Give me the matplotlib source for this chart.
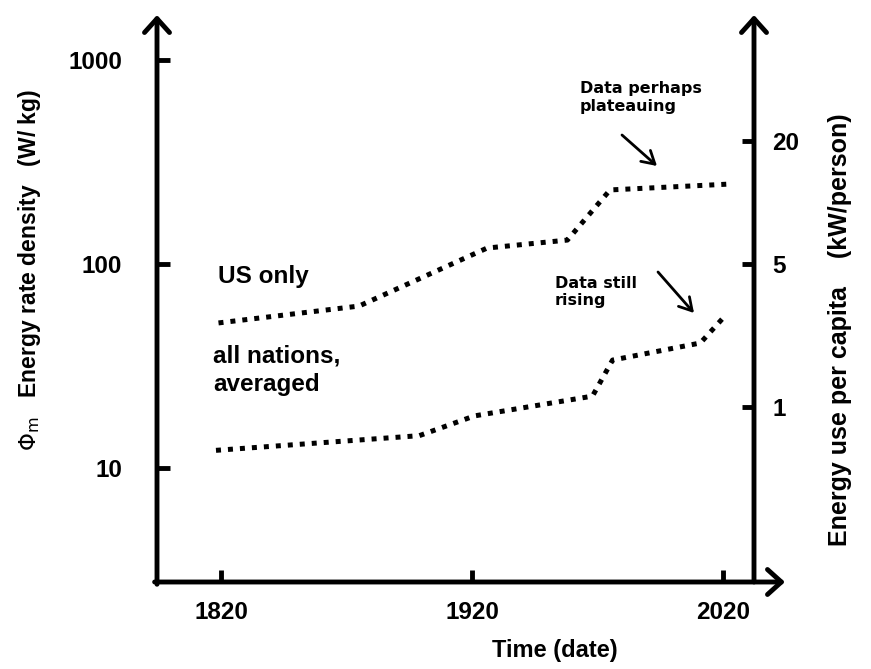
import matplotlib
matplotlib.use("Agg")
import matplotlib.pyplot as plt
from matplotlib.patches import FancyArrowPatch

# ---- data ----
us_years = [1819, 1875, 1926, 1958, 1975, 2023]
us_values = [51.4, 62.2, 119.7, 131, 230.7, 246.6]

all_years = [1818, 1899, 1921, 1968, 1976, 2011, 2020]
all_values = [12.2, 14.4, 18.0, 22.5, 33.8, 41.0, 54.3]

x_ticks = [1820, 1920, 2020]
x_ticklabels = ["1820", "1920", "2020"]
left_ticks = [10, 100, 1000]
left_ticklabels = ["10", "100", "1000"]
right_ticks = [1, 5, 20]
right_ticklabels = ["1", "5", "20"]
WKG_PER_KW_PERSON = 20.0  # conversion between the two y scales

FONT = "Liberation Sans"
HAND = "DejaVu Sans"
W, H = 871, 669

fig = plt.figure(figsize=(W / 100, H / 100), dpi=100)
# axes box: left spine x=157, right spine x=754, bottom y=582, top y=15 (pixels)
ax = fig.add_axes([157 / W, (H - 582) / H, 597 / W, 567 / H])
ax.set_yscale("log")
ax.set_xlim(1794.5, 2032.35)
ax.set_ylim(2.76, 1662)

for s in ax.spines.values():
    s.set_visible(False)

dot = dict(color="black", lw=3.6, linestyle=(0, (1, 1.4)), dash_capstyle="butt")
ax.plot(us_years, us_values, **dot)
ax.plot(all_years, all_values, **dot)

ax.minorticks_off()
ax.set_xticks(x_ticks)
ax.set_xticklabels(x_ticklabels, fontsize=17.5, fontweight="bold", family=FONT)
ax.set_yticks(left_ticks)
ax.set_yticklabels(left_ticklabels, fontsize=17.5, fontweight="bold", family=FONT)
ax.tick_params(axis="both", which="major", direction="in", length=9, width=3.5)
ax.tick_params(axis="y", pad=25)
ax.tick_params(axis="x", pad=14)
ax.tick_params(which="minor", length=0)

sec = ax.secondary_yaxis("right", functions=(lambda v: v / WKG_PER_KW_PERSON,
                                              lambda v: v * WKG_PER_KW_PERSON))
sec.set_yscale("log")
sec.minorticks_off()
sec.set_yticks(right_ticks)
sec.set_yticklabels(right_ticklabels, fontsize=17.5, fontweight="bold", family=FONT)
sec.tick_params(axis="y", which="major", direction="in", length=9, width=3.5, pad=13)
sec.tick_params(which="minor", length=0)
for s in sec.spines.values():
    s.set_visible(False)

arrow = dict(arrowstyle="->,head_length=0.5,head_width=0.45", lw=3.5, color="black",
             shrinkA=0, shrinkB=0, mutation_scale=20)
ax.annotate("", xy=(0, 1.0), xytext=(0, -0.004), xycoords="axes fraction",
            textcoords="axes fraction", arrowprops=arrow, annotation_clip=False)
ax.annotate("", xy=(1, 1.0), xytext=(1, 0), xycoords="axes fraction",
            textcoords="axes fraction", arrowprops=arrow, annotation_clip=False)
ax.annotate("", xy=(628 / 597, 0), xytext=(-0.004, 0), xycoords="axes fraction",
            textcoords="axes fraction", arrowprops=arrow, annotation_clip=False)


def ftext(x, y, s, **kw):
    fig.text(x / W, 1 - y / H, s, **kw)


# axis labels
ftext(30, 270, r"$\Phi_\mathrm{m}$" + "   Energy rate density   (W/ kg)",
      rotation=90, ha="center", va="center", fontsize=16.5, fontweight="bold", family=FONT)
ftext(840, 330, "Energy use per capita    (kW/person)",
      rotation=90, ha="center", va="center", fontsize=18, fontweight="bold", family=FONT)
ftext(555, 650, "Time (date)", ha="center", va="center",
      fontsize=17, fontweight="bold", family=FONT)

# annotations
ftext(218, 277, "US only", ha="left", va="center", fontsize=17.5, fontweight="bold", family=FONT)
ftext(213, 370, "all nations,\naveraged", ha="left", va="center", fontsize=17.5,
      fontweight="bold", family=FONT, linespacing=1.3)
ftext(580, 98, "Data perhaps\nplateauing", ha="left", va="center", fontsize=11.5,
      fontweight="bold", family=HAND, linespacing=1.25)
ftext(555, 292, "Data still\nrising", ha="left", va="center", fontsize=11.5,
      fontweight="bold", family=HAND, linespacing=1.25)

small = dict(arrowstyle="->,head_length=0.6,head_width=0.35", lw=2.0, color="black",
             shrinkA=0, shrinkB=0, mutation_scale=15)
fig.add_artist(FancyArrowPatch((622 / W, 1 - 135 / H), (657 / W, 1 - 166 / H),
                               transform=fig.transFigure, **small))
fig.add_artist(FancyArrowPatch((658 / W, 1 - 272 / H), (694 / W, 1 - 313 / H),
                               transform=fig.transFigure, **small))

fig.savefig("out.png", dpi=100)
